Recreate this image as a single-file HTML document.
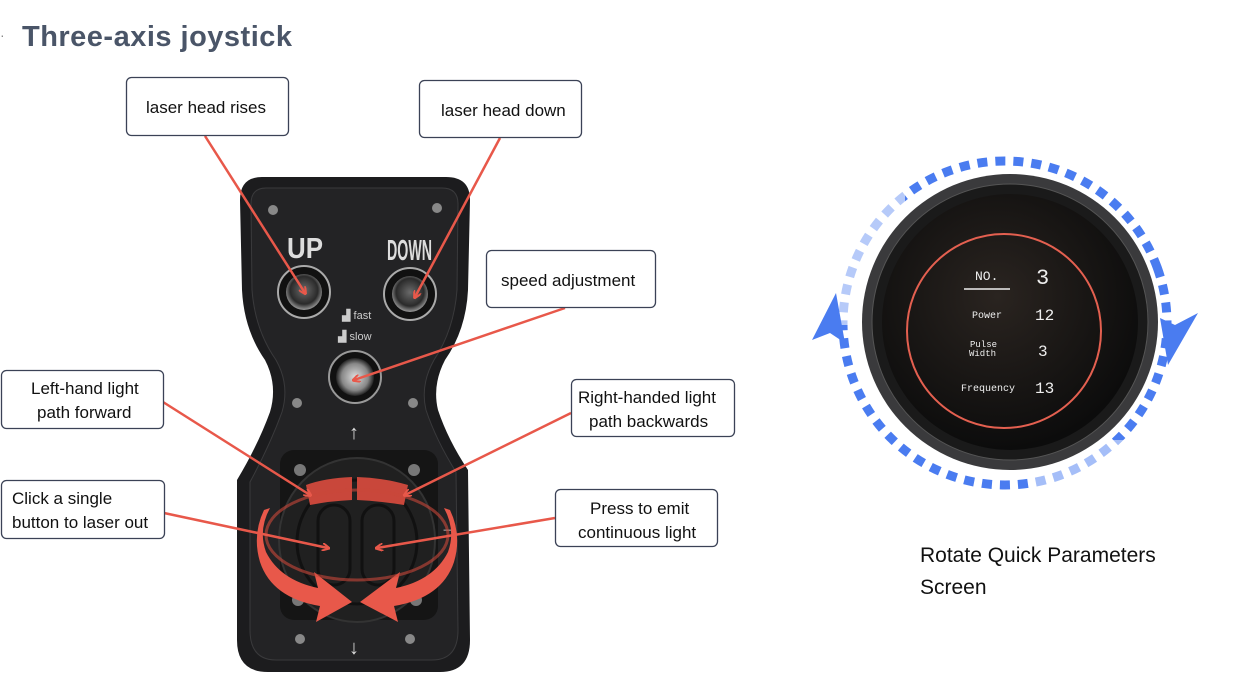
<!DOCTYPE html>
<html><head><meta charset="utf-8"><style>
html,body{margin:0;padding:0;background:#fff;}
svg{display:block;font-family:"Liberation Sans",sans-serif;}
</style></head><body>
<svg width="1243" height="685" viewBox="0 0 1243 685" xmlns="http://www.w3.org/2000/svg">
<defs>
<marker id="ah" markerWidth="8" markerHeight="8" refX="6" refY="4" orient="auto" markerUnits="userSpaceOnUse">
<path d="M0,0 L8,4 L0,8" fill="none" stroke="#e8584a" stroke-width="2"/></marker>
<radialGradient id="btn" cx="50%" cy="45%" r="55%"><stop offset="0" stop-color="#6a6a6a"/><stop offset="0.7" stop-color="#2a2a2a"/><stop offset="1" stop-color="#999"/></radialGradient>
<radialGradient id="knob" cx="50%" cy="50%" r="50%"><stop offset="0" stop-color="#ddd"/><stop offset="0.7" stop-color="#888"/><stop offset="1" stop-color="#222"/></radialGradient>
<radialGradient id="scr" cx="45%" cy="40%" r="60%"><stop offset="0" stop-color="#2a2420"/><stop offset="1" stop-color="#0c0c0c"/></radialGradient>
</defs>
<text x="0" y="40" font-size="14" fill="#888">·</text>
<text x="22" y="46" font-size="29" font-weight="bold" fill="#4a5568" textLength="270">Three-axis joystick</text>

<path d="M262,177 L446,177 Q470,177 470,200 L468,290 Q466,330 445,360 Q432,385 438,410 Q448,440 468,470 L470,640 Q470,672 440,672 L268,672 Q237,672 237,640 L237,480 Q258,445 270,412 Q278,385 265,360 Q244,330 242,290 L240,200 Q240,177 262,177 Z" fill="#1c1c1e"/>
<path d="M266,188 L442,188 Q458,188 458,204 L457,290 Q454,330 434,360 Q420,385 426,410 Q436,440 456,472 L458,630 Q458,660 432,660 L276,660 Q250,660 250,630 L250,482 Q270,445 282,412 Q290,385 276,360 Q255,330 252,290 L251,204 Q251,188 266,188 Z" fill="#232325" stroke="#3a3a3c" stroke-width="1"/>
<g fill="#888"><circle cx="273" cy="210" r="5"/><circle cx="437" cy="208" r="5"/><circle cx="297" cy="403" r="5"/><circle cx="413" cy="403" r="5"/><circle cx="300" cy="639" r="5"/><circle cx="410" cy="639" r="5"/></g>
<text x="287" y="258" font-size="29" font-weight="bold" fill="#ddd" textLength="36" lengthAdjust="spacingAndGlyphs">UP</text>
<text x="387" y="260" font-size="29" font-weight="bold" fill="#ddd" textLength="45" lengthAdjust="spacingAndGlyphs">DOWN</text>
<circle cx="304" cy="292" r="26" fill="#111" stroke="#aaa" stroke-width="2"/><circle cx="304" cy="292" r="18" fill="url(#btn)"/>
<circle cx="410" cy="294" r="26" fill="#111" stroke="#aaa" stroke-width="2"/><circle cx="410" cy="294" r="18" fill="url(#btn)"/>
<text x="342" y="319" font-size="11" fill="#ccc">▟ fast</text>
<text x="338" y="340" font-size="11" fill="#ccc">▟ slow</text>
<circle cx="355" cy="377" r="26" fill="#111" stroke="#999" stroke-width="2"/><circle cx="355" cy="377" r="19" fill="url(#knob)"/>
<text x="349" y="439" font-size="20" font-weight="bold" fill="#ddd">↑</text>
<text x="349" y="654" font-size="20" font-weight="bold" fill="#ddd">↓</text>
<text x="440" y="533" font-size="18" font-weight="bold" fill="#ddd">→</text>
<rect x="280" y="450" width="158" height="170" rx="14" fill="#151515"/>
<circle cx="300" cy="470" r="6" fill="#777"/><circle cx="414" cy="470" r="6" fill="#777"/><circle cx="298" cy="600" r="6" fill="#777"/><circle cx="416" cy="600" r="6" fill="#777"/>
<ellipse cx="357" cy="540" rx="78" ry="82" fill="#202020" stroke="#333" stroke-width="2"/>
<ellipse cx="357" cy="542" rx="60" ry="62" fill="none" stroke="#111" stroke-width="3"/>
<rect x="318" y="505" width="32" height="80" rx="16" fill="none" stroke="#111" stroke-width="3"/>
<rect x="362" y="505" width="32" height="80" rx="16" fill="none" stroke="#111" stroke-width="3"/>
<path d="M306,485 Q325,478 352,477 L352,500 Q330,501 310,505 Z" fill="#c9473b"/>
<path d="M357,477 Q385,478 408,485 L404,505 Q380,501 357,500 Z" fill="#c9473b"/>
<path d="M270,508 Q258,530 266,552 Q280,580 318,588 L314,572 L352,602 L316,622 L320,606 Q272,598 260,562 Q252,535 264,510 Z" fill="#e8584a"/>
<path d="M444,508 Q456,530 448,552 Q434,580 396,588 L400,572 L360,602 L398,622 L394,606 Q442,598 454,562 Q462,535 450,510 Z" fill="#e8584a"/>
<ellipse cx="357" cy="535" rx="91" ry="45" fill="none" stroke="#c9473b" stroke-width="3" opacity="0.6"/>

<g stroke="#e8584a" stroke-width="2.5" fill="none" marker-end="url(#ah)">
<line x1="205" y1="136" x2="305" y2="293"/>
<line x1="500" y1="138" x2="415" y2="297"/>
<line x1="565" y1="308" x2="354" y2="380"/>
<line x1="163" y1="402" x2="310" y2="495"/>
<line x1="571" y1="413" x2="405" y2="495"/>
<line x1="164" y1="513" x2="328" y2="548"/>
<line x1="555" y1="518" x2="377" y2="548"/>
</g>
<g fill="#fff" stroke="#3b4256" stroke-width="1.3">
<rect x="126.5" y="77.5" width="162" height="58" rx="5"/>
<rect x="419.5" y="80.5" width="162" height="57" rx="5"/>
<rect x="486.5" y="250.5" width="169" height="57" rx="5"/>
<rect x="1.5" y="370.5" width="162" height="58" rx="5"/>
<rect x="571.5" y="379.5" width="163" height="57" rx="5"/>
<rect x="1.5" y="480.5" width="163" height="58" rx="5"/>
<rect x="555.5" y="489.5" width="162" height="57" rx="5"/>
</g>
<g font-size="17" fill="#111">
<text x="146" y="113">laser head rises</text>
<text x="441" y="116">laser head down</text>
<text x="501" y="286">speed adjustment</text>
<text x="31" y="394">Left-hand light</text><text x="37" y="418">path forward</text>
<text x="578" y="403">Right-handed light</text><text x="589" y="427">path backwards</text>
<text x="12" y="504">Click a single</text><text x="12" y="528">button to laser out</text>
<text x="590" y="514">Press to emit</text><text x="578" y="538">continuous light</text>
</g>

<circle cx="1005" cy="323" r="162" fill="none" stroke="#4a7cf0" stroke-width="9" stroke-dasharray="10 8" transform="rotate(-20 1005 323)"/>
<rect x="825" y="150" width="80" height="175" fill="#fff" opacity="0.6"/>
<rect x="1030" y="440" width="150" height="60" fill="#fff" opacity="0.5"/>
<circle cx="1010" cy="322" r="148" fill="#3a3a3c"/>
<circle cx="1010" cy="322" r="138" fill="#1a1a1a" stroke="#555" stroke-width="1"/>
<circle cx="1010" cy="322" r="128" fill="url(#scr)"/>
<circle cx="1004" cy="331" r="97" fill="none" stroke="#e46050" stroke-width="2"/>
<g fill="#eee" font-family="Liberation Mono,monospace">
<text x="975" y="280" font-size="13">NO.</text>
<line x1="964" y1="289" x2="1010" y2="289" stroke="#eee" stroke-width="1.5"/>
<text x="1036" y="284" font-size="22">3</text>
<text x="972" y="318" font-size="10">Power</text>
<text x="1035" y="320" font-size="16">12</text>
<text x="970" y="347" font-size="9">Pulse</text><text x="969" y="356" font-size="9">Width</text>
<text x="1038" y="356" font-size="16">3</text>
<text x="961" y="391" font-size="10">Frequency</text>
<text x="1035" y="393" font-size="16">13</text>
</g>
<path d="M812,340 L836,293 L845,343 L830,333 Z" fill="#4a7cf0"/>
<path d="M1198,313 L1168,365 L1160,318 L1175,325 Z" fill="#4a7cf0"/>
<text x="920" y="562" font-size="21" fill="#111">Rotate Quick Parameters</text>
<text x="920" y="594" font-size="21" fill="#111">Screen</text>
</svg>
</body></html>
